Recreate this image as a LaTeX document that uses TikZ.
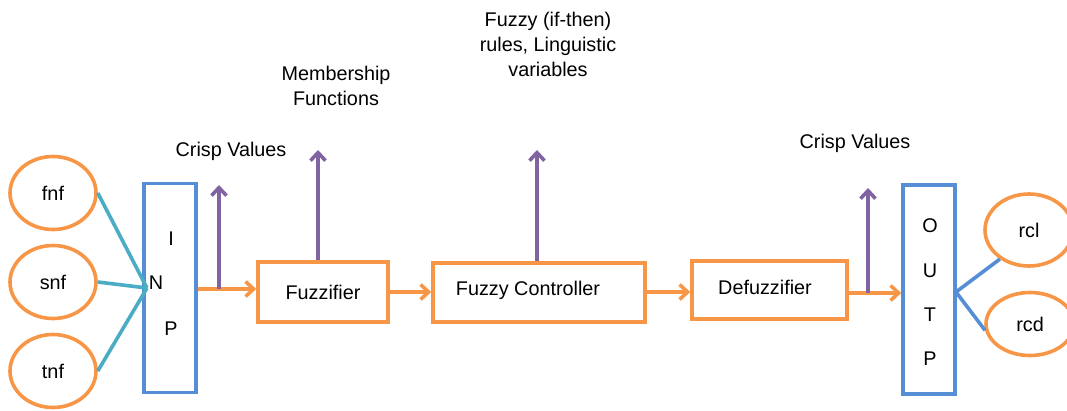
\documentclass[tikz,border=0pt]{standalone}
\usepackage{fontspec}
\setmainfont{Liberation Sans}
\usetikzlibrary{shapes.geometric,arrows.meta}
\definecolor{orng}{HTML}{F79646}
\definecolor{purp}{HTML}{8064A2}
\definecolor{blu}{HTML}{558ED5}
\definecolor{teal2}{HTML}{4BACC6}
\tikzset{
  lbl/.style={font=\fontsize{19.8}{25}\selectfont, inner sep=0pt, align=center},
  ell/.style={ellipse, draw=orng, line width=3.6pt, minimum width=86pt, minimum height=73pt, inner sep=0pt, lbl},
  obox/.style={draw=orng, line width=3.6pt, inner sep=0pt, lbl},
  bbox/.style={draw=blu, line width=3.6pt, inner sep=0pt, minimum width=52pt, minimum height=209pt},
  oarr/.style={draw=orng, line width=3.6pt, -{Straight Barb[length=8pt,width=15pt,line width=3.6pt]}},
  parr/.style={draw=purp, line width=3.6pt, -{Straight Barb[length=8pt,width=15pt,line width=3.6pt]}},
  tline/.style={draw=teal2, line width=3.6pt},
  bline/.style={draw=blu, line width=3.6pt},
}
\begin{document}
\begin{tikzpicture}[x=1pt,y=-1pt]
\useasboundingbox (0,0) rectangle (1067,410);
% input ellipses
\node[ell] (fnf) at (53,193) {fnf};
\node[ell] (snf) at (53,282) {snf};
\node[ell] (tnf) at (53,371) {tnf};
% INP box
\node[bbox] (inp) at (170,288) {};
\node[lbl] (li) at (171,239) {I};
\node[lbl] (ln) at (156,283) {N};
\node[lbl] (lp) at (171,329) {P};
\coordinate (nin) at (147,288);
\draw[tline] (fnf.east) -- (nin);
\draw[tline] (snf.east) -- (nin);
\draw[tline] (tnf.east) -- (nin);
% boxes
\node[obox, minimum width=130pt, minimum height=60pt] (fuzz) at (323,292) {Fuzzifier};
\node[obox, minimum width=212pt, minimum height=59pt] (ctrl) at (539,292.5) {};
\node[lbl] (ctrlt) at (528,290) {Fuzzy Controller};
\node[obox, minimum width=155pt, minimum height=58pt] (defz) at (769.5,290) {};
\node[lbl] (defzt) at (765,287) {Defuzzifier};
% OUTP box
\node[bbox, minimum height=209pt] (outp) at (929,289.5) {};
\node[lbl] (lo) at (930,226) {O};
\node[lbl] (lu) at (930,271) {U};
\node[lbl] (lt) at (930,315) {T};
\node[lbl] (lp2) at (930,359) {P};
% output ellipses
\node[ell, minimum width=88pt, minimum height=72pt] (rcl) at (1029,230) {rcl};
\node[ell, minimum width=88pt, minimum height=63pt] (rcd) at (1030,324) {rcd};
\coordinate (nout) at (956,292);
\draw[bline] (nout) -- (rcl.225);
\draw[bline] (nout) -- (rcd.188);
% flow arrows
\draw[oarr] (inp.east |- 0,289) -- (fuzz.west |- 0,289);
\draw[oarr] (fuzz.east |- 0,292) -- (ctrl.west |- 0,292);
\draw[oarr] (ctrl.east |- 0,292) -- (defz.west |- 0,292);
\draw[oarr] (defz.east |- 0,293) -- (outp.west |- 0,293);
% purple up arrows
\coordinate (c1) at (219,289);
\coordinate (c1t) at (219,185);
\draw[parr] (c1) -- (c1t);
\coordinate (c2t) at (318,150);
\draw[parr] (fuzz.north -| c2t) -- (c2t);
\coordinate (c3t) at (537,150);
\draw[parr] (ctrl.north -| c3t) -- (c3t);
\coordinate (c4) at (868,293);
\coordinate (c4t) at (868,188);
\draw[parr] (c4) -- (c4t);
% labels
\node[lbl] (cv1) at (231,151) {Crisp Values};
\node[lbl] (mf) at (336,86) {Membership\\Functions};
\node[lbl] (fr) at (548,44) {Fuzzy (if-then)\\rules, Linguistic\\variables};
\node[lbl] (cv2) at (855,143) {Crisp Values};
\end{tikzpicture}
\end{document}
